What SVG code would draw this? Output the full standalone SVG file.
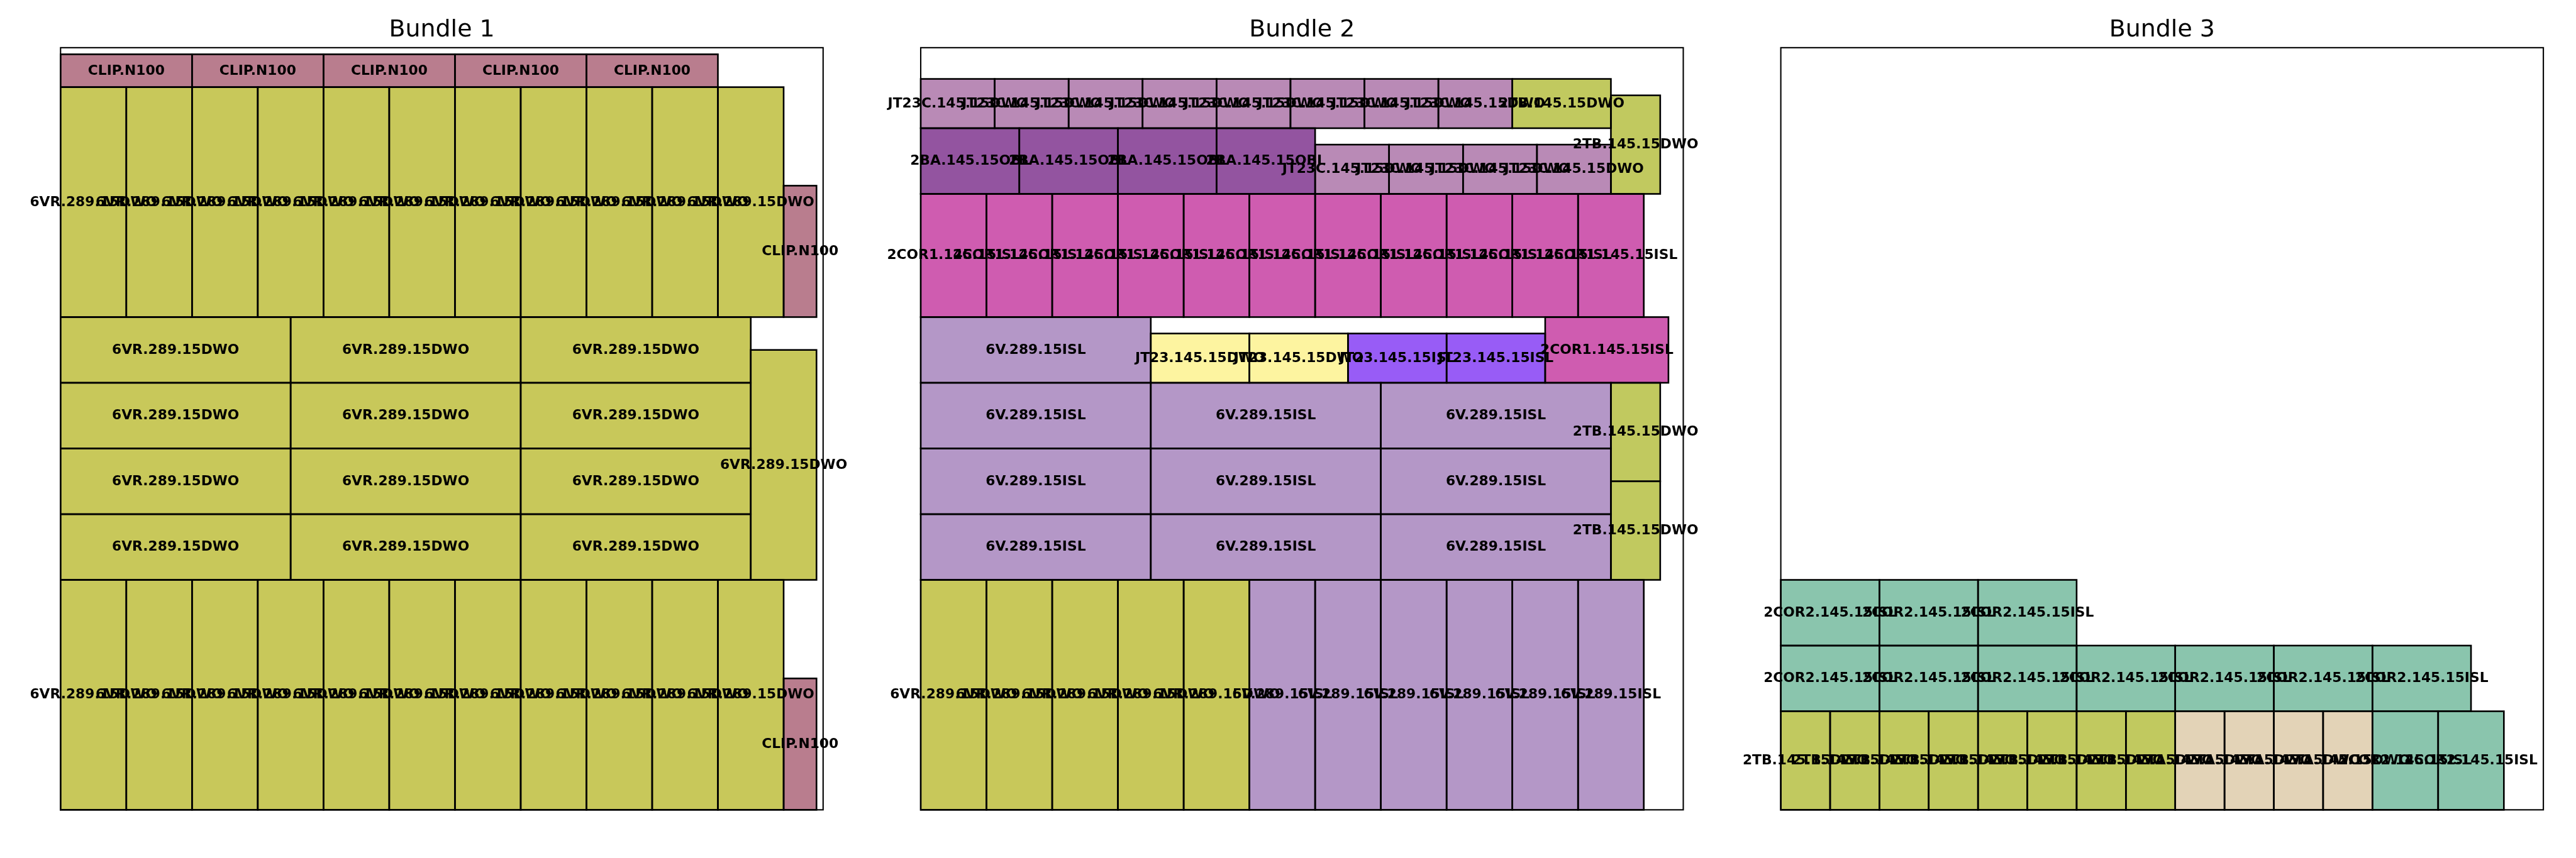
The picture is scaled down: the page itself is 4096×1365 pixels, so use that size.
<svg xmlns="http://www.w3.org/2000/svg" width="4096" height="1365" viewBox="0 0 4096 1365">
<style>
.frame{fill:#ffffff;stroke:#000000;stroke-width:2.1}
.n rect{stroke:#000000;stroke-width:2.6;mix-blend-mode:multiply}
.n text{font-family:"DejaVu Sans","Liberation Sans",sans-serif;font-weight:bold;font-size:21.8px;text-anchor:middle;fill:#000000}
.title{font-family:"DejaVu Sans","Liberation Sans",sans-serif;font-size:37.9px;text-anchor:middle;fill:#000000}
.vr rect{fill:#c8c85a}
.clip rect{fill:#b97d8e}
.tb rect{fill:#c1c95f}
.jtc rect{fill:#b98ab6}
.ba rect{fill:#9354a0}
.cor1 rect{fill:#cf5cb0}
.v rect{fill:#b497c7}
.jtd rect{fill:#fdf4a0}
.jti rect{fill:#985cf6}
.cor2 rect{fill:#8ac5ad}
.ta rect{fill:#e3d3b7}
</style>
<rect x="0" y="0" width="4096" height="1365" fill="#ffffff"/>
<text class="title" x="702.6" y="57.5">Bundle 1</text>
<text class="title" x="2070.25" y="57.5">Bundle 2</text>
<text class="title" x="3437.85" y="57.5">Bundle 3</text>

<g id="bundle-1" transform="translate(96.3,1288.35)">
<rect class="frame" x="0" y="-1212.5" width="1212.5" height="1212.5"/>
<g id="b1-clip-r1" class="n clip"><rect x="0" y="-1201.98" width="209.04" height="52.26"/><text x="104.52" y="-1169.85">CLIP.N100</text></g>
<g id="b1-clip-r2" class="n clip"><rect x="209.04" y="-1201.98" width="209.04" height="52.26"/><text x="313.56" y="-1169.85">CLIP.N100</text></g>
<g id="b1-clip-r3" class="n clip"><rect x="418.08" y="-1201.98" width="209.04" height="52.26"/><text x="522.6" y="-1169.85">CLIP.N100</text></g>
<g id="b1-clip-r4" class="n clip"><rect x="627.12" y="-1201.98" width="209.04" height="52.26"/><text x="731.64" y="-1169.85">CLIP.N100</text></g>
<g id="b1-clip-r5" class="n clip"><rect x="836.16" y="-1201.98" width="209.04" height="52.26"/><text x="940.68" y="-1169.85">CLIP.N100</text></g>
<g id="b1-top-1" class="n vr"><rect x="0" y="-1149.72" width="104.52" height="365.82"/><text x="52.26" y="-960.81">6VR.289.15DWO</text></g>
<g id="b1-top-2" class="n vr"><rect x="104.52" y="-1149.72" width="104.52" height="365.82"/><text x="156.78" y="-960.81">6VR.289.15DWO</text></g>
<g id="b1-top-3" class="n vr"><rect x="209.04" y="-1149.72" width="104.52" height="365.82"/><text x="261.3" y="-960.81">6VR.289.15DWO</text></g>
<g id="b1-top-4" class="n vr"><rect x="313.56" y="-1149.72" width="104.52" height="365.82"/><text x="365.82" y="-960.81">6VR.289.15DWO</text></g>
<g id="b1-top-5" class="n vr"><rect x="418.08" y="-1149.72" width="104.52" height="365.82"/><text x="470.34" y="-960.81">6VR.289.15DWO</text></g>
<g id="b1-top-6" class="n vr"><rect x="522.6" y="-1149.72" width="104.52" height="365.82"/><text x="574.86" y="-960.81">6VR.289.15DWO</text></g>
<g id="b1-top-7" class="n vr"><rect x="627.12" y="-1149.72" width="104.52" height="365.82"/><text x="679.38" y="-960.81">6VR.289.15DWO</text></g>
<g id="b1-top-8" class="n vr"><rect x="731.64" y="-1149.72" width="104.52" height="365.82"/><text x="783.9" y="-960.81">6VR.289.15DWO</text></g>
<g id="b1-top-9" class="n vr"><rect x="836.16" y="-1149.72" width="104.52" height="365.82"/><text x="888.42" y="-960.81">6VR.289.15DWO</text></g>
<g id="b1-top-10" class="n vr"><rect x="940.68" y="-1149.72" width="104.52" height="365.82"/><text x="992.94" y="-960.81">6VR.289.15DWO</text></g>
<g id="b1-top-11" class="n vr"><rect x="1045.2" y="-1149.72" width="104.52" height="365.82"/><text x="1097.46" y="-960.81">6VR.289.15DWO</text></g>
<g id="b1-clip-v1" class="n clip"><rect x="1149.72" y="-992.94" width="52.26" height="209.04"/><text x="1175.85" y="-882.42">CLIP.N100</text></g>
<g id="b1-w-4-1" class="n vr"><rect x="0" y="-783.9" width="365.82" height="104.52"/><text x="182.91" y="-725.64">6VR.289.15DWO</text></g>
<g id="b1-w-4-2" class="n vr"><rect x="365.82" y="-783.9" width="365.82" height="104.52"/><text x="548.73" y="-725.64">6VR.289.15DWO</text></g>
<g id="b1-w-4-3" class="n vr"><rect x="731.64" y="-783.9" width="365.82" height="104.52"/><text x="914.55" y="-725.64">6VR.289.15DWO</text></g>
<g id="b1-w-3-1" class="n vr"><rect x="0" y="-679.38" width="365.82" height="104.52"/><text x="182.91" y="-621.12">6VR.289.15DWO</text></g>
<g id="b1-w-3-2" class="n vr"><rect x="365.82" y="-679.38" width="365.82" height="104.52"/><text x="548.73" y="-621.12">6VR.289.15DWO</text></g>
<g id="b1-w-3-3" class="n vr"><rect x="731.64" y="-679.38" width="365.82" height="104.52"/><text x="914.55" y="-621.12">6VR.289.15DWO</text></g>
<g id="b1-w-2-1" class="n vr"><rect x="0" y="-574.86" width="365.82" height="104.52"/><text x="182.91" y="-516.6">6VR.289.15DWO</text></g>
<g id="b1-w-2-2" class="n vr"><rect x="365.82" y="-574.86" width="365.82" height="104.52"/><text x="548.73" y="-516.6">6VR.289.15DWO</text></g>
<g id="b1-w-2-3" class="n vr"><rect x="731.64" y="-574.86" width="365.82" height="104.52"/><text x="914.55" y="-516.6">6VR.289.15DWO</text></g>
<g id="b1-w-1-1" class="n vr"><rect x="0" y="-470.34" width="365.82" height="104.52"/><text x="182.91" y="-412.08">6VR.289.15DWO</text></g>
<g id="b1-w-1-2" class="n vr"><rect x="365.82" y="-470.34" width="365.82" height="104.52"/><text x="548.73" y="-412.08">6VR.289.15DWO</text></g>
<g id="b1-w-1-3" class="n vr"><rect x="731.64" y="-470.34" width="365.82" height="104.52"/><text x="914.55" y="-412.08">6VR.289.15DWO</text></g>
<g id="b1-vr-v" class="n vr"><rect x="1097.46" y="-731.64" width="104.52" height="365.82"/><text x="1149.72" y="-542.73">6VR.289.15DWO</text></g>
<g id="b1-bot-1" class="n vr"><rect x="0" y="-365.82" width="104.52" height="365.82"/><text x="52.26" y="-176.91">6VR.289.15DWO</text></g>
<g id="b1-bot-2" class="n vr"><rect x="104.52" y="-365.82" width="104.52" height="365.82"/><text x="156.78" y="-176.91">6VR.289.15DWO</text></g>
<g id="b1-bot-3" class="n vr"><rect x="209.04" y="-365.82" width="104.52" height="365.82"/><text x="261.3" y="-176.91">6VR.289.15DWO</text></g>
<g id="b1-bot-4" class="n vr"><rect x="313.56" y="-365.82" width="104.52" height="365.82"/><text x="365.82" y="-176.91">6VR.289.15DWO</text></g>
<g id="b1-bot-5" class="n vr"><rect x="418.08" y="-365.82" width="104.52" height="365.82"/><text x="470.34" y="-176.91">6VR.289.15DWO</text></g>
<g id="b1-bot-6" class="n vr"><rect x="522.6" y="-365.82" width="104.52" height="365.82"/><text x="574.86" y="-176.91">6VR.289.15DWO</text></g>
<g id="b1-bot-7" class="n vr"><rect x="627.12" y="-365.82" width="104.52" height="365.82"/><text x="679.38" y="-176.91">6VR.289.15DWO</text></g>
<g id="b1-bot-8" class="n vr"><rect x="731.64" y="-365.82" width="104.52" height="365.82"/><text x="783.9" y="-176.91">6VR.289.15DWO</text></g>
<g id="b1-bot-9" class="n vr"><rect x="836.16" y="-365.82" width="104.52" height="365.82"/><text x="888.42" y="-176.91">6VR.289.15DWO</text></g>
<g id="b1-bot-10" class="n vr"><rect x="940.68" y="-365.82" width="104.52" height="365.82"/><text x="992.94" y="-176.91">6VR.289.15DWO</text></g>
<g id="b1-bot-11" class="n vr"><rect x="1045.2" y="-365.82" width="104.52" height="365.82"/><text x="1097.46" y="-176.91">6VR.289.15DWO</text></g>
<g id="b1-clip-v2" class="n clip"><rect x="1149.72" y="-209.04" width="52.26" height="209.04"/><text x="1175.85" y="-98.52">CLIP.N100</text></g>
</g>

<g id="bundle-2" transform="translate(1464,1288.35)">
<rect class="frame" x="0" y="-1212.5" width="1212.5" height="1212.5"/>
<g id="b2-jtc-t1" class="n jtc"><rect x="0" y="-1162.785" width="117.585" height="78.39"/><text x="58.79" y="-1117.59">JT23C.145.15DWO</text></g>
<g id="b2-jtc-t2" class="n jtc"><rect x="117.585" y="-1162.785" width="117.585" height="78.39"/><text x="176.38" y="-1117.59">JT23C.145.15DWO</text></g>
<g id="b2-jtc-t3" class="n jtc"><rect x="235.17" y="-1162.785" width="117.585" height="78.39"/><text x="293.96" y="-1117.59">JT23C.145.15DWO</text></g>
<g id="b2-jtc-t4" class="n jtc"><rect x="352.755" y="-1162.785" width="117.585" height="78.39"/><text x="411.55" y="-1117.59">JT23C.145.15DWO</text></g>
<g id="b2-jtc-t5" class="n jtc"><rect x="470.34" y="-1162.785" width="117.585" height="78.39"/><text x="529.13" y="-1117.59">JT23C.145.15DWO</text></g>
<g id="b2-jtc-t6" class="n jtc"><rect x="587.925" y="-1162.785" width="117.585" height="78.39"/><text x="646.72" y="-1117.59">JT23C.145.15DWO</text></g>
<g id="b2-jtc-t7" class="n jtc"><rect x="705.51" y="-1162.785" width="117.585" height="78.39"/><text x="764.3" y="-1117.59">JT23C.145.15DWO</text></g>
<g id="b2-jtc-t8" class="n jtc"><rect x="823.095" y="-1162.785" width="117.585" height="78.39"/><text x="881.89" y="-1117.59">JT23C.145.15DWO</text></g>
<g id="b2-tb-h" class="n tb"><rect x="940.68" y="-1162.785" width="156.78" height="78.39"/><text x="1019.07" y="-1117.59">2TB.145.15DWO</text></g>
<g id="b2-tb-v1" class="n tb"><rect x="1097.46" y="-1136.655" width="78.39" height="156.78"/><text x="1136.655" y="-1052.27">2TB.145.15DWO</text></g>
<g id="b2-ba-1" class="n ba"><rect x="0" y="-1084.395" width="156.78" height="104.52"/><text x="78.39" y="-1026.14">2BA.145.15OBL</text></g>
<g id="b2-ba-2" class="n ba"><rect x="156.78" y="-1084.395" width="156.78" height="104.52"/><text x="235.17" y="-1026.14">2BA.145.15OBL</text></g>
<g id="b2-ba-3" class="n ba"><rect x="313.56" y="-1084.395" width="156.78" height="104.52"/><text x="391.95" y="-1026.14">2BA.145.15OBL</text></g>
<g id="b2-ba-4" class="n ba"><rect x="470.34" y="-1084.395" width="156.78" height="104.52"/><text x="548.73" y="-1026.14">2BA.145.15OBL</text></g>
<g id="b2-jtc-b1" class="n jtc"><rect x="627.12" y="-1058.265" width="117.585" height="78.39"/><text x="685.91" y="-1013.07">JT23C.145.15DWO</text></g>
<g id="b2-jtc-b2" class="n jtc"><rect x="744.705" y="-1058.265" width="117.585" height="78.39"/><text x="803.5" y="-1013.07">JT23C.145.15DWO</text></g>
<g id="b2-jtc-b3" class="n jtc"><rect x="862.29" y="-1058.265" width="117.585" height="78.39"/><text x="921.08" y="-1013.07">JT23C.145.15DWO</text></g>
<g id="b2-jtc-b4" class="n jtc"><rect x="979.875" y="-1058.265" width="117.585" height="78.39"/><text x="1038.67" y="-1013.07">JT23C.145.15DWO</text></g>
<g id="b2-cor1-1" class="n cor1"><rect x="0" y="-979.875" width="104.52" height="195.975"/><text x="52.26" y="-875.89">2COR1.145.15ISL</text></g>
<g id="b2-cor1-2" class="n cor1"><rect x="104.52" y="-979.875" width="104.52" height="195.975"/><text x="156.78" y="-875.89">2COR1.145.15ISL</text></g>
<g id="b2-cor1-3" class="n cor1"><rect x="209.04" y="-979.875" width="104.52" height="195.975"/><text x="261.3" y="-875.89">2COR1.145.15ISL</text></g>
<g id="b2-cor1-4" class="n cor1"><rect x="313.56" y="-979.875" width="104.52" height="195.975"/><text x="365.82" y="-875.89">2COR1.145.15ISL</text></g>
<g id="b2-cor1-5" class="n cor1"><rect x="418.08" y="-979.875" width="104.52" height="195.975"/><text x="470.34" y="-875.89">2COR1.145.15ISL</text></g>
<g id="b2-cor1-6" class="n cor1"><rect x="522.6" y="-979.875" width="104.52" height="195.975"/><text x="574.86" y="-875.89">2COR1.145.15ISL</text></g>
<g id="b2-cor1-7" class="n cor1"><rect x="627.12" y="-979.875" width="104.52" height="195.975"/><text x="679.38" y="-875.89">2COR1.145.15ISL</text></g>
<g id="b2-cor1-8" class="n cor1"><rect x="731.64" y="-979.875" width="104.52" height="195.975"/><text x="783.9" y="-875.89">2COR1.145.15ISL</text></g>
<g id="b2-cor1-9" class="n cor1"><rect x="836.16" y="-979.875" width="104.52" height="195.975"/><text x="888.42" y="-875.89">2COR1.145.15ISL</text></g>
<g id="b2-cor1-10" class="n cor1"><rect x="940.68" y="-979.875" width="104.52" height="195.975"/><text x="992.94" y="-875.89">2COR1.145.15ISL</text></g>
<g id="b2-cor1-11" class="n cor1"><rect x="1045.2" y="-979.875" width="104.52" height="195.975"/><text x="1097.46" y="-875.89">2COR1.145.15ISL</text></g>
<g id="b2-v-4-1" class="n v"><rect x="0" y="-783.9" width="365.82" height="104.52"/><text x="182.91" y="-725.64">6V.289.15ISL</text></g>
<g id="b2-jtd-1" class="n jtd"><rect x="365.82" y="-757.77" width="156.78" height="78.39"/><text x="444.21" y="-712.58">JT23.145.15DWO</text></g>
<g id="b2-jtd-2" class="n jtd"><rect x="522.6" y="-757.77" width="156.78" height="78.39"/><text x="600.99" y="-712.58">JT23.145.15DWO</text></g>
<g id="b2-jti-1" class="n jti"><rect x="679.38" y="-757.77" width="156.78" height="78.39"/><text x="757.77" y="-712.58">JT23.145.15ISL</text></g>
<g id="b2-jti-2" class="n jti"><rect x="836.16" y="-757.77" width="156.78" height="78.39"/><text x="914.55" y="-712.58">JT23.145.15ISL</text></g>
<g id="b2-cor1-h" class="n cor1"><rect x="992.94" y="-783.9" width="195.975" height="104.52"/><text x="1090.93" y="-725.64">2COR1.145.15ISL</text></g>
<g id="b2-v-3-1" class="n v"><rect x="0" y="-679.38" width="365.82" height="104.52"/><text x="182.91" y="-621.12">6V.289.15ISL</text></g>
<g id="b2-v-3-2" class="n v"><rect x="365.82" y="-679.38" width="365.82" height="104.52"/><text x="548.73" y="-621.12">6V.289.15ISL</text></g>
<g id="b2-v-3-3" class="n v"><rect x="731.64" y="-679.38" width="365.82" height="104.52"/><text x="914.55" y="-621.12">6V.289.15ISL</text></g>
<g id="b2-v-2-1" class="n v"><rect x="0" y="-574.86" width="365.82" height="104.52"/><text x="182.91" y="-516.6">6V.289.15ISL</text></g>
<g id="b2-v-2-2" class="n v"><rect x="365.82" y="-574.86" width="365.82" height="104.52"/><text x="548.73" y="-516.6">6V.289.15ISL</text></g>
<g id="b2-v-2-3" class="n v"><rect x="731.64" y="-574.86" width="365.82" height="104.52"/><text x="914.55" y="-516.6">6V.289.15ISL</text></g>
<g id="b2-v-1-1" class="n v"><rect x="0" y="-470.34" width="365.82" height="104.52"/><text x="182.91" y="-412.08">6V.289.15ISL</text></g>
<g id="b2-v-1-2" class="n v"><rect x="365.82" y="-470.34" width="365.82" height="104.52"/><text x="548.73" y="-412.08">6V.289.15ISL</text></g>
<g id="b2-v-1-3" class="n v"><rect x="731.64" y="-470.34" width="365.82" height="104.52"/><text x="914.55" y="-412.08">6V.289.15ISL</text></g>
<g id="b2-tb-v2" class="n tb"><rect x="1097.46" y="-679.38" width="78.39" height="156.78"/><text x="1136.655" y="-594.99">2TB.145.15DWO</text></g>
<g id="b2-tb-v3" class="n tb"><rect x="1097.46" y="-522.6" width="78.39" height="156.78"/><text x="1136.655" y="-438.21">2TB.145.15DWO</text></g>
<g id="b2-bot-1" class="n vr"><rect x="0" y="-365.82" width="104.52" height="365.82"/><text x="52.26" y="-176.91">6VR.289.15DWO</text></g>
<g id="b2-bot-2" class="n vr"><rect x="104.52" y="-365.82" width="104.52" height="365.82"/><text x="156.78" y="-176.91">6VR.289.15DWO</text></g>
<g id="b2-bot-3" class="n vr"><rect x="209.04" y="-365.82" width="104.52" height="365.82"/><text x="261.3" y="-176.91">6VR.289.15DWO</text></g>
<g id="b2-bot-4" class="n vr"><rect x="313.56" y="-365.82" width="104.52" height="365.82"/><text x="365.82" y="-176.91">6VR.289.15DWO</text></g>
<g id="b2-bot-5" class="n vr"><rect x="418.08" y="-365.82" width="104.52" height="365.82"/><text x="470.34" y="-176.91">6VR.289.15DWO</text></g>
<g id="b2-bot-6" class="n v"><rect x="522.6" y="-365.82" width="104.52" height="365.82"/><text x="574.86" y="-176.91">6V.289.15ISL</text></g>
<g id="b2-bot-7" class="n v"><rect x="627.12" y="-365.82" width="104.52" height="365.82"/><text x="679.38" y="-176.91">6V.289.15ISL</text></g>
<g id="b2-bot-8" class="n v"><rect x="731.64" y="-365.82" width="104.52" height="365.82"/><text x="783.9" y="-176.91">6V.289.15ISL</text></g>
<g id="b2-bot-9" class="n v"><rect x="836.16" y="-365.82" width="104.52" height="365.82"/><text x="888.42" y="-176.91">6V.289.15ISL</text></g>
<g id="b2-bot-10" class="n v"><rect x="940.68" y="-365.82" width="104.52" height="365.82"/><text x="992.94" y="-176.91">6V.289.15ISL</text></g>
<g id="b2-bot-11" class="n v"><rect x="1045.2" y="-365.82" width="104.52" height="365.82"/><text x="1097.46" y="-176.91">6V.289.15ISL</text></g>
</g>

<g id="bundle-3" transform="translate(2831.6,1288.35)">
<rect class="frame" x="0" y="-1212.5" width="1212.5" height="1212.5"/>
<g id="b3-cor2-t1" class="n cor2"><rect x="0" y="-365.82" width="156.78" height="104.52"/><text x="78.39" y="-307.56">2COR2.145.15ISL</text></g>
<g id="b3-cor2-t2" class="n cor2"><rect x="156.78" y="-365.82" width="156.78" height="104.52"/><text x="235.17" y="-307.56">2COR2.145.15ISL</text></g>
<g id="b3-cor2-t3" class="n cor2"><rect x="313.56" y="-365.82" width="156.78" height="104.52"/><text x="391.95" y="-307.56">2COR2.145.15ISL</text></g>
<g id="b3-cor2-m1" class="n cor2"><rect x="0" y="-261.3" width="156.78" height="104.52"/><text x="78.39" y="-203.04">2COR2.145.15ISL</text></g>
<g id="b3-cor2-m2" class="n cor2"><rect x="156.78" y="-261.3" width="156.78" height="104.52"/><text x="235.17" y="-203.04">2COR2.145.15ISL</text></g>
<g id="b3-cor2-m3" class="n cor2"><rect x="313.56" y="-261.3" width="156.78" height="104.52"/><text x="391.95" y="-203.04">2COR2.145.15ISL</text></g>
<g id="b3-cor2-m4" class="n cor2"><rect x="470.34" y="-261.3" width="156.78" height="104.52"/><text x="548.73" y="-203.04">2COR2.145.15ISL</text></g>
<g id="b3-cor2-m5" class="n cor2"><rect x="627.12" y="-261.3" width="156.78" height="104.52"/><text x="705.51" y="-203.04">2COR2.145.15ISL</text></g>
<g id="b3-cor2-m6" class="n cor2"><rect x="783.9" y="-261.3" width="156.78" height="104.52"/><text x="862.29" y="-203.04">2COR2.145.15ISL</text></g>
<g id="b3-cor2-m7" class="n cor2"><rect x="940.68" y="-261.3" width="156.78" height="104.52"/><text x="1019.07" y="-203.04">2COR2.145.15ISL</text></g>
<g id="b3-tb-1" class="n tb"><rect x="0" y="-156.78" width="78.39" height="156.78"/><text x="39.2" y="-72.39">2TB.145.15DWO</text></g>
<g id="b3-tb-2" class="n tb"><rect x="78.39" y="-156.78" width="78.39" height="156.78"/><text x="117.59" y="-72.39">2TB.145.15DWO</text></g>
<g id="b3-tb-3" class="n tb"><rect x="156.78" y="-156.78" width="78.39" height="156.78"/><text x="195.98" y="-72.39">2TB.145.15DWO</text></g>
<g id="b3-tb-4" class="n tb"><rect x="235.17" y="-156.78" width="78.39" height="156.78"/><text x="274.37" y="-72.39">2TB.145.15DWO</text></g>
<g id="b3-tb-5" class="n tb"><rect x="313.56" y="-156.78" width="78.39" height="156.78"/><text x="352.76" y="-72.39">2TB.145.15DWO</text></g>
<g id="b3-tb-6" class="n tb"><rect x="391.95" y="-156.78" width="78.39" height="156.78"/><text x="431.15" y="-72.39">2TB.145.15DWO</text></g>
<g id="b3-tb-7" class="n tb"><rect x="470.34" y="-156.78" width="78.39" height="156.78"/><text x="509.54" y="-72.39">2TB.145.15DWO</text></g>
<g id="b3-tb-8" class="n tb"><rect x="548.73" y="-156.78" width="78.39" height="156.78"/><text x="587.93" y="-72.39">2TB.145.15DWO</text></g>
<g id="b3-ta-1" class="n ta"><rect x="627.12" y="-156.78" width="78.39" height="156.78"/><text x="666.32" y="-72.39">2TA.145.15DWO</text></g>
<g id="b3-ta-2" class="n ta"><rect x="705.51" y="-156.78" width="78.39" height="156.78"/><text x="744.71" y="-72.39">2TA.145.15DWO</text></g>
<g id="b3-ta-3" class="n ta"><rect x="783.9" y="-156.78" width="78.39" height="156.78"/><text x="823.1" y="-72.39">2TA.145.15DWO</text></g>
<g id="b3-ta-4" class="n ta"><rect x="862.29" y="-156.78" width="78.39" height="156.78"/><text x="901.49" y="-72.39">2TA.145.15DWO</text></g>
<g id="b3-cor2-b1" class="n cor2"><rect x="940.68" y="-156.78" width="104.52" height="156.78"/><text x="992.94" y="-72.39">2COR2.145.15ISL</text></g>
<g id="b3-cor2-b2" class="n cor2"><rect x="1045.2" y="-156.78" width="104.52" height="156.78"/><text x="1097.46" y="-72.39">2COR2.145.15ISL</text></g>
</g>
<g id="connectors"/>
</svg>
